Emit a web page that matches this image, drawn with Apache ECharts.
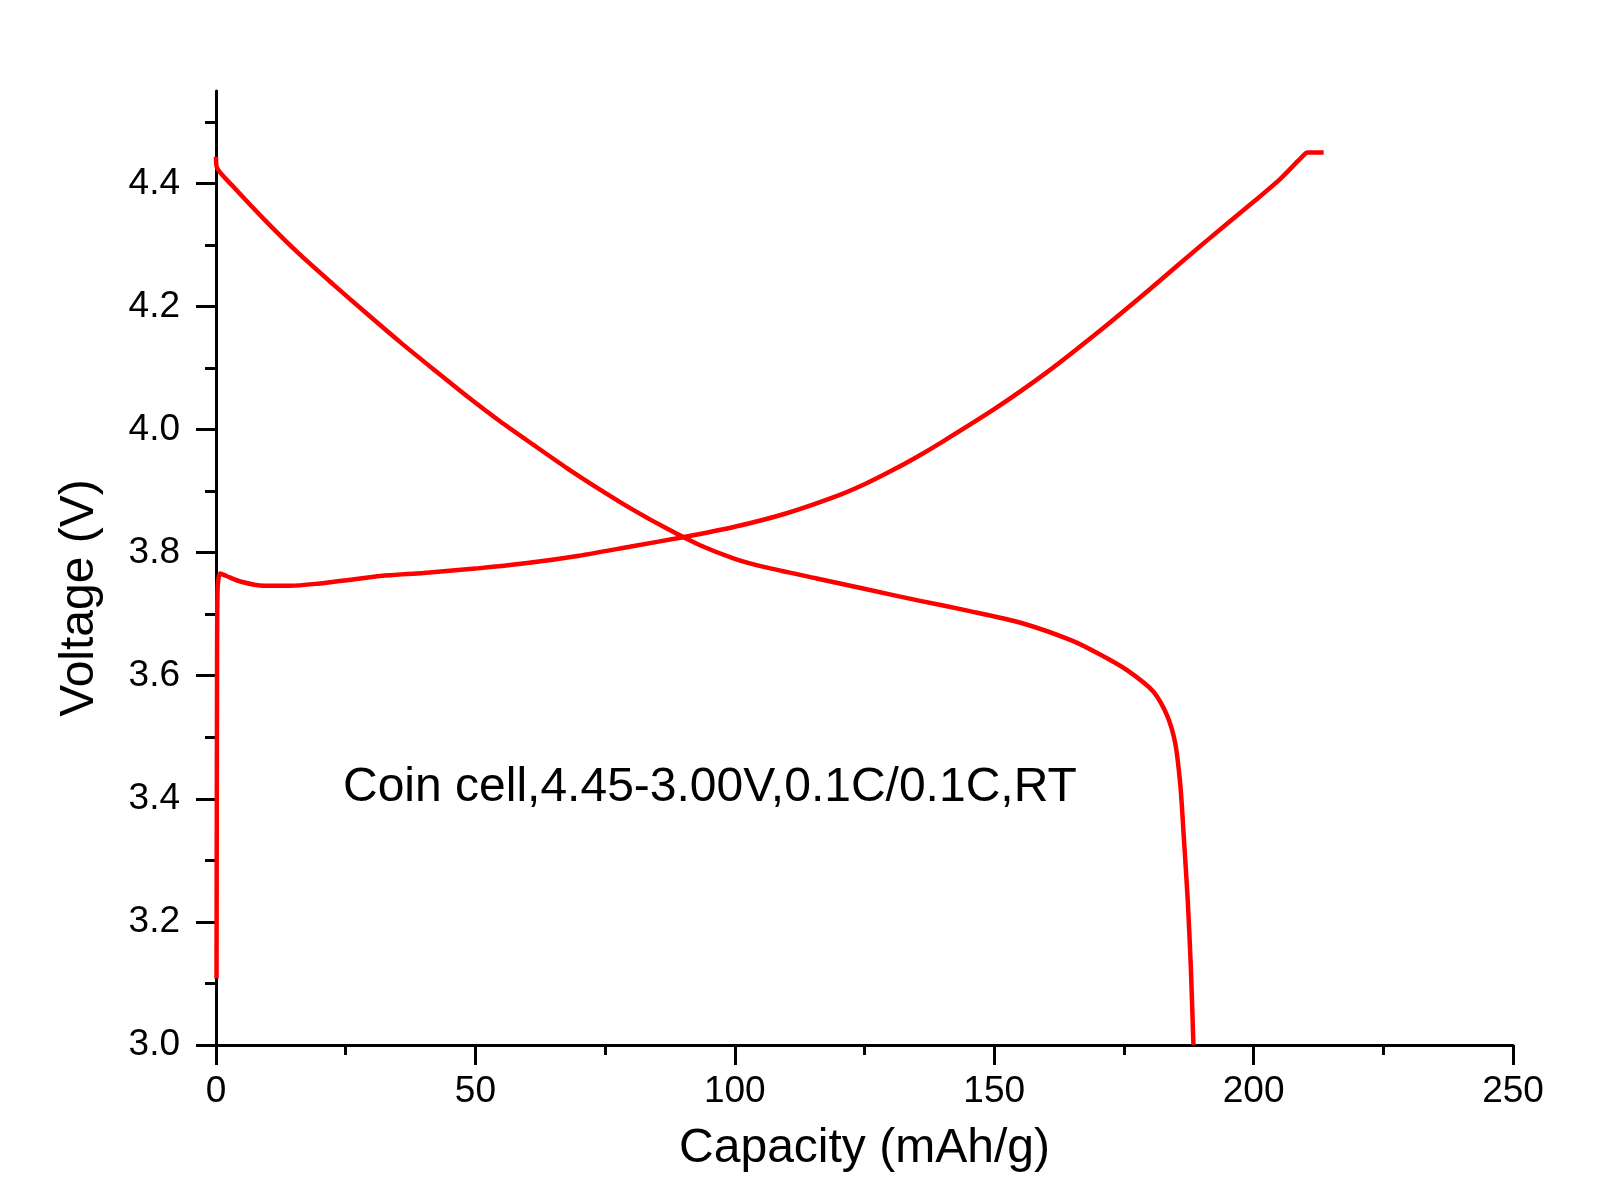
<!DOCTYPE html>
<html>
<head>
<meta charset="utf-8">
<script src="https://cdn.jsdelivr.net/npm/echarts@6/dist/echarts.min.js"></script>
<style>
html,body{margin:0;padding:0;background:#fff;}
#chart{width:1600px;height:1200px;}
</style>
</head>
<body>
<div id="chart"></div>
<script>
// Charge curve: [capacity (mAh/g), voltage (V)]
var chargeCurve = [
  [0.1, 3.108], [0.2, 3.60], [0.3, 3.74], [0.8, 3.766], [2.0, 3.762],
  [4.7, 3.753], [9.2, 3.746], [14.3, 3.746], [20.1, 3.750], [25.2, 3.755],
  [31.7, 3.762], [40, 3.767], [50, 3.774], [60, 3.783], [70, 3.795],
  [80, 3.810], [90, 3.825], [100, 3.842], [110, 3.864], [120, 3.893],
  [125, 3.911], [130, 3.932], [135, 3.955], [140, 3.980], [150, 4.033],
  [160, 4.092], [170, 4.158], [180, 4.228], [190, 4.300], [200, 4.370],
  [205, 4.406], [209, 4.440], [210.4, 4.450], [213.5, 4.450]
];
// Discharge curve: [capacity (mAh/g), voltage (V)]
var dischargeCurve = [
  [0, 4.443], [0.2, 4.425], [3.4, 4.394], [9.8, 4.337], [16.2, 4.284],
  [22.7, 4.235], [29.1, 4.188], [35.5, 4.142], [41.9, 4.098], [48.4, 4.054],
  [54.8, 4.013], [61.2, 3.975], [67.7, 3.937], [74.1, 3.902], [80.5, 3.869],
  [86.9, 3.839], [93.3, 3.812], [100, 3.790], [106, 3.776], [115.8, 3.758],
  [125.6, 3.740], [135.5, 3.722], [145.3, 3.705], [155.1, 3.686], [165, 3.657],
  [170.5, 3.634], [175.6, 3.609], [180.7, 3.574], [183.3, 3.536], [184.9, 3.490],
  [185.9, 3.420], [186.5, 3.344], [187.3, 3.236], [187.9, 3.127], [188.4, 3.0]
];
var yMajorTicks = [3.0, 3.2, 3.4, 3.6, 3.8, 4.0, 4.2, 4.4];
var yMinorTicks = [3.1, 3.3, 3.5, 3.7, 3.9, 4.1, 4.3, 4.5];
var xMajorTicks = [0, 50, 100, 150, 200, 250];
var xMinorTicks = [25, 75, 125, 175, 225];
var xTitle = 'Capacity (mAh/g)';
var yTitle = 'Voltage (V)';
var noteText = 'Coin cell,4.45-3.00V,0.1C/0.1C,RT';

var FONT = 'Liberation Sans, Arial, sans-serif';
var chart = echarts.init(document.getElementById('chart'));
var axisLine = {show: true, onZero: false, lineStyle: {color: '#000', width: 3}};

chart.setOption({
  animation: false,
  backgroundColor: '#fff',
  grid: {left: 216, right: 87, top: 91, bottom: 155, containLabel: false},
  xAxis: [{
    type: 'value', min: 0, max: 250, interval: 50,
    position: 'bottom',
    axisLine: axisLine,
    axisTick: {show: true, length: 20, customValues: xMajorTicks, lineStyle: {color: '#000', width: 3}},
    axisLabel: {show: true, customValues: xMajorTicks, margin: 28, color: '#000', fontSize: 37, fontFamily: FONT},
    splitLine: {show: false},
    name: xTitle, nameLocation: 'middle', nameGap: 80,
    nameTextStyle: {color: '#000', fontSize: 48, fontFamily: FONT}
  }, {
    type: 'value', min: 0, max: 250, interval: 50,
    position: 'bottom', offset: 0,
    axisLine: {show: false},
    axisTick: {show: true, length: 10, customValues: xMinorTicks, lineStyle: {color: '#000', width: 3}},
    axisLabel: {show: false},
    splitLine: {show: false}
  }],
  yAxis: [{
    type: 'value', min: 3.0, max: 4.55, interval: 0.2,
    position: 'left',
    axisLine: axisLine,
    axisTick: {show: true, length: 20, customValues: yMajorTicks, lineStyle: {color: '#000', width: 3}},
    axisLabel: {show: true, customValues: yMajorTicks, margin: 36, color: '#000', fontSize: 37, fontFamily: FONT,
      formatter: function (v) { return Number(v).toFixed(1); }},
    splitLine: {show: false}
  }, {
    type: 'value', min: 3.0, max: 4.55, interval: 0.2,
    position: 'left', offset: 0,
    axisLine: {show: false},
    axisTick: {show: true, length: 11, customValues: yMinorTicks, lineStyle: {color: '#000', width: 3}},
    axisLabel: {show: false},
    splitLine: {show: false}
  }],
  graphic: [{
    type: 'text', left: 343, top: 764,
    style: {text: noteText, fill: '#000', font: '48px ' + FONT}
  }, {
    type: 'text', x: 80, y: 598, rotation: Math.PI / 2,
    style: {text: yTitle, fill: '#000', font: '48px ' + FONT, textAlign: 'center', textVerticalAlign: 'middle'}
  }],
  series: [{
    name: 'Charge', type: 'line', data: chargeCurve,
    xAxisIndex: 0, yAxisIndex: 0,
    showSymbol: false, smooth: 0.25,
    lineStyle: {color: '#ff0000', width: 4.5}, z: 3
  }, {
    name: 'Discharge', type: 'line', data: dischargeCurve,
    xAxisIndex: 0, yAxisIndex: 0,
    showSymbol: false, smooth: 0.25,
    lineStyle: {color: '#ff0000', width: 4.5}, z: 3
  }]
});
</script>
</body>
</html>
